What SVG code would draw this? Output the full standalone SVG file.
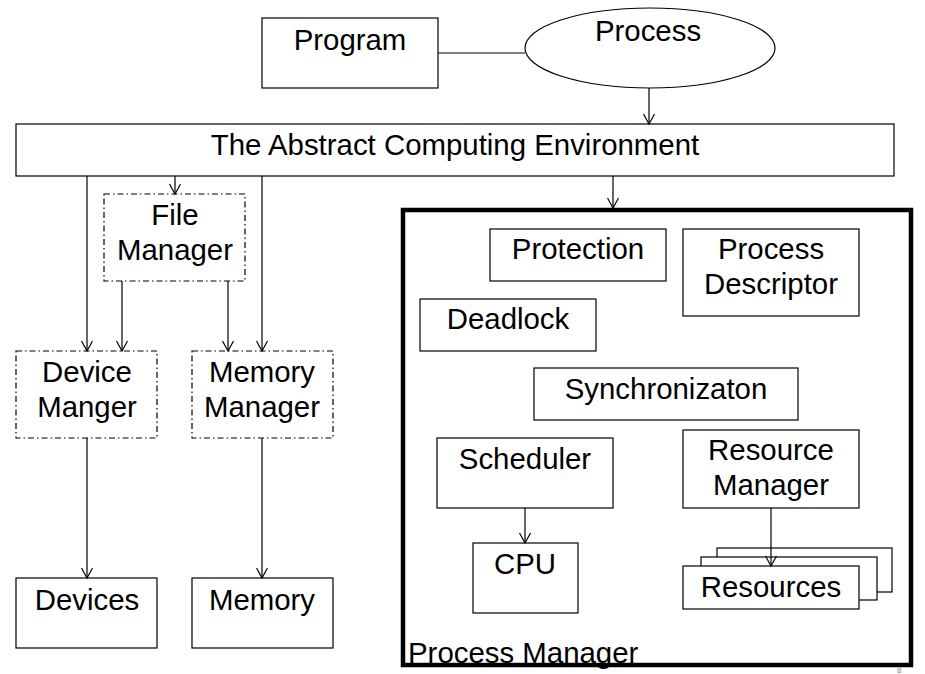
<svg xmlns="http://www.w3.org/2000/svg" width="925" height="674" viewBox="0 0 925 674">
<style>
.b{fill:#fff;stroke:#000;stroke-width:1.2}
.d{fill:#fff;stroke:#000;stroke-width:1.2;stroke-dasharray:6 3 1.5 3}
.t{font-family:"Liberation Sans",Arial,sans-serif;font-size:29.4px;fill:#000;text-anchor:middle}
.c{stroke:#000;stroke-width:1.2;fill:none}
</style>
<defs>
<marker id="a" markerWidth="14" markerHeight="12" refX="11" refY="6" orient="auto" markerUnits="userSpaceOnUse">
<polyline points="1,0.5 11,6 1,11.5" fill="none" stroke="#000" stroke-width="1.2"/>
</marker>
</defs>
<rect width="925" height="674" fill="#fff"/>
<g id="process-manager">
<rect x="403" y="210" width="508" height="455" fill="#fff" stroke="#000" stroke-width="4.5"/>
<text class="t" x="408" y="663" style="text-anchor:start">Process Manager</text>
</g>
<g id="program"><rect class="b" x="262" y="18" width="176" height="70"/><text class="t" x="350" y="50">Program</text></g>
<g id="process"><ellipse class="b" cx="650" cy="48" rx="125" ry="40"/><text class="t" x="648" y="41">Process</text></g>
<g id="env"><rect class="b" x="16" y="124" width="878" height="52"/><text class="t" x="455" y="155">The Abstract Computing Environment</text></g>
<g id="file-manager"><rect class="d" x="104" y="194" width="141" height="87"/><text class="t" x="175" y="225">File</text><text class="t" x="175" y="260">Manager</text></g>
<g id="device-manager"><rect class="d" x="16" y="351" width="141" height="87"/><text class="t" x="87" y="382">Device</text><text class="t" x="87" y="417">Manger</text></g>
<g id="memory-manager"><rect class="d" x="192" y="351" width="141" height="87"/><text class="t" x="262" y="382">Memory</text><text class="t" x="262" y="417">Manager</text></g>
<g id="devices"><rect class="b" x="16" y="578" width="141" height="70"/><text class="t" x="87" y="610">Devices</text></g>
<g id="memory"><rect class="b" x="192" y="578" width="141" height="70"/><text class="t" x="262" y="610">Memory</text></g>
<g id="protection"><rect class="b" x="490" y="229" width="176" height="52"/><text class="t" x="578" y="259">Protection</text></g>
<g id="process-descriptor"><rect class="b" x="683" y="229" width="176" height="87"/><text class="t" x="771" y="259">Process</text><text class="t" x="771" y="294">Descriptor</text></g>
<g id="deadlock"><rect class="b" x="420" y="299" width="176" height="52"/><text class="t" x="508" y="329">Deadlock</text></g>
<g id="synchronization"><rect class="b" x="534" y="368" width="264" height="52"/><text class="t" x="666" y="399">Synchronizaton</text></g>
<g id="scheduler"><rect class="b" x="437" y="438" width="176" height="70"/><text class="t" x="525" y="469">Scheduler</text></g>
<g id="resource-manager"><rect class="b" x="683" y="430" width="176" height="78"/><text class="t" x="771" y="460">Resource</text><text class="t" x="771" y="495">Manager</text></g>
<g id="cpu"><rect class="b" x="473" y="543" width="105" height="70"/><text class="t" x="525" y="574">CPU</text></g>
<g id="resources">
<rect class="b" x="717" y="548" width="175" height="44"/>
<rect class="b" x="701" y="557" width="176" height="43"/>
<rect class="b" x="683" y="566" width="176" height="43"/>
<text class="t" x="771" y="597">Resources</text>
</g>
<g id="connectors">
<line class="c" x1="438" y1="53" x2="525" y2="53"/>
<line class="c" x1="649" y1="88" x2="649" y2="124" marker-end="url(#a)"/>
<line class="c" x1="87" y1="176" x2="87" y2="351" marker-end="url(#a)"/>
<line class="c" x1="175" y1="176" x2="175" y2="194" marker-end="url(#a)"/>
<line class="c" x1="262" y1="176" x2="262" y2="351" marker-end="url(#a)"/>
<line class="c" x1="613" y1="176" x2="613" y2="208" marker-end="url(#a)"/>
<line class="c" x1="122" y1="281" x2="122" y2="351" marker-end="url(#a)"/>
<line class="c" x1="228" y1="281" x2="228" y2="351" marker-end="url(#a)"/>
<line class="c" x1="87" y1="438" x2="87" y2="578" marker-end="url(#a)"/>
<line class="c" x1="262" y1="438" x2="262" y2="578" marker-end="url(#a)"/>
<line class="c" x1="525" y1="508" x2="525" y2="543" marker-end="url(#a)"/>
<line class="c" x1="771" y1="508" x2="771" y2="566" marker-end="url(#a)"/>
</g>
<text x="897" y="673" style="font-family:'Liberation Sans',Arial,sans-serif;font-size:8px;fill:#888">8</text>
</svg>
